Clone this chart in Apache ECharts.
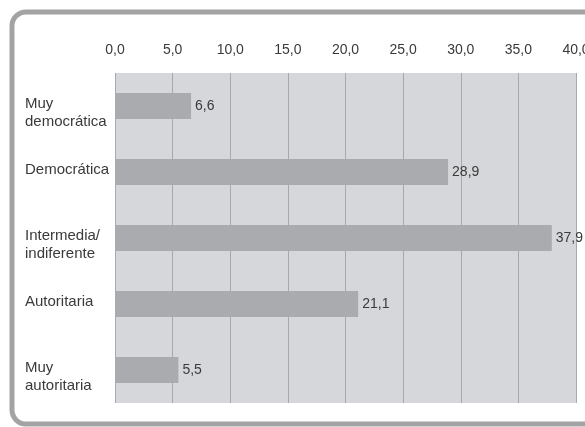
<!DOCTYPE html>
<html>
<head>
<meta charset="utf-8">
<script src="https://cdn.jsdelivr.net/npm/echarts@6/dist/echarts.min.js"></script>
<style>
html,body{margin:0;padding:0;background:#fff;}
#c{width:585px;height:427px;}
</style>
</head>
<body>
<div id="c"></div>
<script>
var categories = ['Muy\ndemocrática', 'Democrática', 'Intermedia/\nindiferente', 'Autoritaria', 'Muy\nautoritaria'];
var values = [6.6, 28.9, 37.9, 21.1, 5.5];
var tickMin = 0, tickMax = 40, tickStep = 5;

var fmt = function (v) { return v.toFixed(1).replace('.', ','); };

var catFormatter = function (v) {
  var lines = v.split('\n');
  if (lines.length > 1) {
    return '{g| }\n{m|' + lines.join('}\n{m|') + '}';
  }
  return '{m|' + v + '}\n{h| }';
};

var labelFont = {color: '#3a3a3a', fontSize: 15, lineHeight: 18,
  fontFamily: 'Liberation Sans, Arial, sans-serif', align: 'left'};

var chart = echarts.init(document.getElementById('c'), null, {renderer: 'canvas'});
chart.setOption({
  animation: false,
  backgroundColor: '#ffffff',
  textStyle: {fontFamily: 'Liberation Sans, Arial, sans-serif'},
  graphic: [{
    type: 'rect',
    z: -10,
    shape: {x: 12, y: 12, width: 640, height: 412, r: 14},
    style: {fill: '#ffffff', stroke: '#a3a3a3', lineWidth: 5}
  }],
  grid: {
    left: 115, right: 9, top: 73, bottom: 24,
    outerBoundsMode: 'none',
    containLabel: false,
    show: true, backgroundColor: '#d5d7da', borderWidth: 0
  },
  xAxis: {
    type: 'value',
    position: 'top',
    min: tickMin, max: tickMax, interval: tickStep,
    axisLine: {show: false},
    axisTick: {show: false},
    axisLabel: {
      formatter: fmt, color: '#3a3a3a', fontSize: 14, margin: 16,
      fontFamily: 'Liberation Sans, Arial, sans-serif'
    },
    splitLine: {show: true, lineStyle: {color: '#a6a9ad', width: 1}}
  },
  yAxis: {
    type: 'category',
    data: categories,
    inverse: true,
    axisLine: {show: false},
    axisTick: {show: false},
    axisLabel: {
      align: 'left', margin: 90, color: '#3a3a3a', fontSize: 15, lineHeight: 18,
      fontFamily: 'Liberation Sans, Arial, sans-serif',
      formatter: catFormatter,
      rich: {
        m: Object.assign({}, labelFont),
        g: {fontSize: 1, lineHeight: 14},
        h: {fontSize: 1, lineHeight: 5}
      }
    },
    splitLine: {show: false}
  },
  series: [{
    type: 'bar',
    data: values,
    barWidth: 26,
    itemStyle: {color: '#a9abae'},
    label: {
      show: true, position: 'right', distance: 4,
      formatter: function (p) { return fmt(p.value); },
      color: '#3a3a3a', fontSize: 14,
      fontFamily: 'Liberation Sans, Arial, sans-serif'
    }
  }]
});
</script>
</body>
</html>
